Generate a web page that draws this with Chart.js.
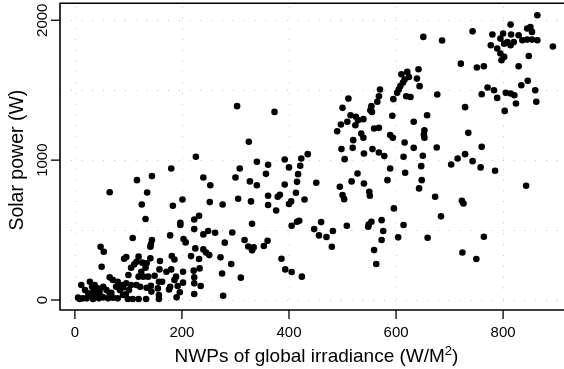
<!DOCTYPE html>
<html><head><meta charset="utf-8">
<script src="https://cdn.jsdelivr.net/npm/chart.js@4.4.0/dist/chart.umd.min.js"></script>
<style>html,body{margin:0;padding:0;background:#fff;overflow:hidden}canvas{display:block}</style>
</head><body>
<canvas id="c" width="564" height="369"></canvas>
<script>
const irradiance = [864,814,743,651,686,780,800,815,829,845,851,854,864,795,808,820,836,845,854,777,789,802,814,795,802,797,848,829,893,721,751,764,846,834,771,783,760,789,805,814,821,860,862,824,803,729,735,760,703,715,729,743,758,785,676,843,723,726,684,764,724,750,673,659,
621,610,624,642,639,644,616,613,608,605,602,619,627,570,568,565,554,552,555,595,511,500,515,525,529,539,509,524,497,490,498,504,520,519,593,658,633,653,652,653,559,568,535,539,540,556,589,594,616,633,650,647,614,617,589,584,568,578,517,528,540,495,500,503,550,551,648,643,596,508,549,554,548,573,576,573,604,614,559,563,
303,373,325,392,400,423,435,421,417,415,392,413,404,400,429,340,361,308,300,327,340,357,451,305,329,361,361,376,379,383,276,405,415,419,331,447,460,456,470,482,480,317,324,331,334,353,360,386,393,405,424,310,294,280,292,272,275,277,262,249,240,253,240,252,
226,180,201,183,223,232,116,144,135,125,132,65,108,197,197,223,203,207,178,181,186,144,142,141,92,96,48,54,50,119,134,141,225,240,245,251,217,232,159,180,171,189,202,115,126,132,111,105,124,119,128,65,71,80,87,90,96,105,77,101,115,122,134,142,149,157,163,178,186,192,176,222,223,223,235,223,190,196,158,
28,32,37,43,46,39,53,12,19,25,31,40,50,6,9,15,22,34,45,53,62,68,71,80,99,108,119,133,157,157,90,95,59,65,
677,100,137,84,143,155,35,233,202];
const solarPower = [2036,1969,1921,1881,1855,1898,1905,1898,1893,1941,1952,1917,1857,1869,1845,1845,1857,1862,1862,1821,1798,1833,1821,1762,1738,1714,1745,1671,1812,1690,1662,1671,1567,1536,1519,1500,1471,1445,1481,1476,1464,1500,1417,1405,1352,1379,1195,1095,969,1012,1043,993,948,924,1090,817,710,690,598,452,340,293,738,445,
1631,1614,1595,1650,1583,1529,1576,1555,1529,1505,1481,1457,1452,1505,1457,1417,1386,1357,1345,1436,1440,1374,1321,1310,1286,1293,1274,1250,1255,1207,1079,1007,1143,1088,1317,1321,1274,1214,1183,1160,1226,1231,1190,1160,1048,1079,1179,1160,1126,1088,1031,957,1024,910,940,857,1055,1029,848,905,833,810,750,721,774,745,857,798,655,531,540,560,524,571,493,429,448,536,357,257,
1386,1345,1131,1005,948,1012,1043,960,900,845,826,767,705,686,719,988,967,940,876,848,821,902,838,724,705,745,679,640,738,752,683,531,560,567,545,507,557,462,450,493,381,429,383,355,376,386,424,295,219,200,167,160,483,410,257,305,190,31,481,493,469,821,876,700,
1024,940,719,674,576,602,857,886,769,683,579,771,443,552,536,507,436,412,462,314,290,429,398,381,295,307,381,345,238,310,262,298,369,362,340,321,314,293,279,219,202,167,202,274,267,231,255,231,202,167,167,162,143,131,107,90,119,107,95,71,107,95,88,102,174,131,131,95,143,100,76,210,162,119,100,43,19,55,219,
131,95,107,83,60,52,95,107,71,48,36,29,24,17,7,12,12,7,12,19,12,52,17,12,7,7,7,7,7,36,36,40,71,48,
1469,179,167,71,60,83,65,226,124];

const xTickValues = [0, 200, 400, 600, 800];
const xTickLabels = ['0', '200', '400', '600', '800'];
const yTickValues = [0, 1000, 2000];
const yTickLabels = ['0', '1000', '2000'];
const xGridValues = [0, 200, 400, 600, 800];
const yGridValues = [0, 500, 1000, 1500, 2000];
const xTitleMain = 'NWPs of global irradiance (W/M';
const xTitleSup = '2';
const xTitleEnd = ')';
const yTitle = 'Solar power (W)';

const FONT = '"Liberation Sans", Arial, Helvetica, sans-serif';

const rAxes = {
  id: 'rAxes',
  beforeDatasetsDraw(chart) {
    const {ctx, chartArea: a, scales: {x, y}} = chart;
    ctx.save();
    ctx.strokeStyle = '#c4c4c4';
    ctx.lineWidth = 1;
    ctx.setLineDash([1, 9.8]);
    xGridValues.forEach(v => {
      const px = Math.round(x.getPixelForValue(v)) + 0.5;
      ctx.beginPath(); ctx.moveTo(px, a.bottom); ctx.lineTo(px, a.top); ctx.stroke();
    });
    yGridValues.forEach(v => {
      const py = Math.round(y.getPixelForValue(v)) + 0.5;
      ctx.beginPath(); ctx.moveTo(a.left, py); ctx.lineTo(a.right, py); ctx.stroke();
    });
    ctx.restore();
  },
  afterDatasetsDraw(chart) {
    const {ctx, chartArea: a, scales: {x, y}} = chart;
    ctx.save();
    ctx.setLineDash([]);
    ctx.strokeStyle = '#000';
    ctx.lineWidth = 1.6;
    ctx.lineJoin = 'miter';
    ctx.beginPath();
    ctx.moveTo(a.right + 4, a.top);
    ctx.lineTo(a.left, a.top);
    ctx.lineTo(a.left, a.bottom);
    ctx.lineTo(a.right + 4, a.bottom);
    ctx.stroke();

    ctx.lineWidth = 1.3;
    yTickValues.forEach(v => {
      const py = y.getPixelForValue(v);
      ctx.beginPath(); ctx.moveTo(a.left - 9, py); ctx.lineTo(a.left, py); ctx.stroke();
    });
    xTickValues.forEach(v => {
      const px = x.getPixelForValue(v);
      ctx.beginPath(); ctx.moveTo(px, a.bottom); ctx.lineTo(px, a.bottom + 9); ctx.stroke();
    });

    ctx.fillStyle = '#000';
    ctx.font = '15px ' + FONT;
    ctx.textAlign = 'center';
    ctx.textBaseline = 'alphabetic';
    xTickValues.forEach((v, i) => {
      ctx.fillText(xTickLabels[i], x.getPixelForValue(v), 337);
    });
    yTickValues.forEach((v, i) => {
      ctx.save();
      ctx.translate(46.5, y.getPixelForValue(v));
      ctx.rotate(-Math.PI / 2);
      ctx.fillText(yTickLabels[i], 0, 0);
      ctx.restore();
    });

    // y title
    ctx.save();
    ctx.font = '19.5px ' + FONT;
    ctx.translate(23, (a.top + a.bottom) / 2 + 3.5);
    ctx.rotate(-Math.PI / 2);
    ctx.fillText(yTitle, 0, 0);
    ctx.restore();

    // x title with superscript
    const bigF = '19px ' + FONT, smallF = '13px ' + FONT;
    ctx.textAlign = 'left';
    ctx.font = bigF; const w1 = ctx.measureText(xTitleMain).width;
    const w3 = ctx.measureText(xTitleEnd).width;
    ctx.font = smallF; const w2 = ctx.measureText(xTitleSup).width;
    const total = w1 + w2 + w3;
    const cx = 316.5, base = 361.5;
    let sx = cx - total / 2;
    ctx.font = bigF; ctx.fillText(xTitleMain, sx, base);
    ctx.font = smallF; ctx.fillText(xTitleSup, sx + w1, base - 7);
    ctx.font = bigF; ctx.fillText(xTitleEnd, sx + w1 + w2, base);
    ctx.restore();
  }
};

const points = irradiance.map((v, i) => ({x: v, y: solarPower[i]}));

new Chart(document.getElementById('c'), {
  type: 'scatter',
  data: {
    datasets: [{
      data: points,
      backgroundColor: '#000',
      borderWidth: 0,
      pointRadius: 3.3,
      pointHoverRadius: 3.3
    }]
  },
  options: {
    responsive: false,
    animation: false,
    devicePixelRatio: 1,
    layout: {padding: {left: 60, top: 3, right: 0, bottom: 59}},
    plugins: {legend: {display: false}, tooltip: {enabled: false}},
    events: [],
    scales: {
      x: {type: 'linear', min: -27.8, max: 907.6, display: false},
      y: {type: 'linear', min: -71.4, max: 2121.4, display: false}
    }
  },
  plugins: [rAxes]
});
</script>
</body></html>
